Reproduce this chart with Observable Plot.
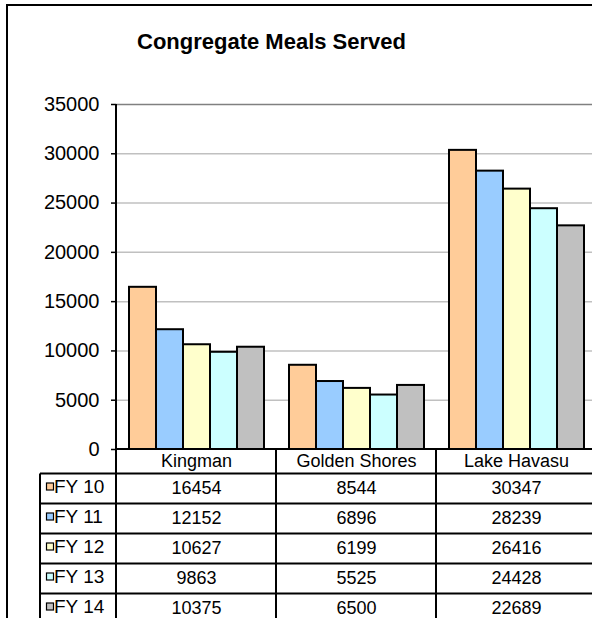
<!DOCTYPE html>
<html><head><meta charset="utf-8">
<script src="https://cdn.jsdelivr.net/npm/d3@7"></script>
<script src="https://cdn.jsdelivr.net/npm/@observablehq/plot@0.6"></script>
<style>
html,body{margin:0;padding:0;background:#fff;overflow:hidden;}
body{font-family:"Liberation Sans",Arial,sans-serif;}
#wrap{position:relative;width:592px;height:618px;overflow:hidden;}
#chart{position:absolute;left:0;top:0;width:600px;}
#chart svg{max-width:none !important;}
#title{position:absolute;left:137px;top:29px;font-weight:bold;font-size:22px;line-height:26px;white-space:nowrap;color:#000;}
#frame{position:absolute;left:6px;top:4px;width:800px;height:800px;border:2px solid #000;pointer-events:none;}
</style></head><body>
<div id="wrap"><div id="chart"></div><div id="title">Congregate Meals Served</div><div id="frame"></div></div>
<script>
const locations = ["Kingman", "Golden Shores", "Lake Havasu"];
const seriesNames = ["FY 10", "FY 11", "FY 12", "FY 13", "FY 14"];
const fy10 = [16454, 8544, 30347];
const fy11 = [12152, 6896, 28239];
const fy12 = [10627, 6199, 26416];
const fy13 = [9863, 5525, 24428];
const fy14 = [10375, 6500, 22689];
const yTicks = [0, 5000, 10000, 15000, 20000, 25000, 30000, 35000];
const colors = ["#FFCC99", "#99CCFF", "#FFFFCC", "#CCFFFF", "#C0C0C0"];

const seriesValues = [fy10, fy11, fy12, fy13, fy14];
const data = [];
seriesNames.forEach((s, i) => locations.forEach((loc, j) => data.push({series: s, loc, value: seriesValues[i][j]})));

const FONT = "Liberation Sans, Arial, sans-serif";
const headerH = 24.5, rowH = 30;

const rowTextMarks = seriesNames.map((s, i) =>
  Plot.text(data.filter(d => d.series === s), {
    fx: "loc", frameAnchor: "bottom", lineAnchor: "middle", text: d => String(d.value),
    dy: headerH + rowH * i + 14, fontSize: 18, fill: "#000"
  })
);

const plot = Plot.plot({
  width: 600, height: 618,
  marginTop: 104, marginBottom: 169, marginLeft: 115, marginRight: 4,
  style: {background: "transparent", fontFamily: FONT, overflow: "visible", color: "#000", maxWidth: "none"},
  fx: {domain: locations, padding: 0, label: null},
  x: {domain: seriesNames, padding: 0, insetLeft: 12, insetRight: 12, axis: null},
  y: {domain: [0, 35000], label: null},
  color: {domain: seriesNames, range: colors},
  marks: [
    Plot.ruleY(yTicks.filter(t => t > 0 && t < 35000), {stroke: "#c0c0c0", strokeWidth: 1.5}),
    Plot.ruleY([35000], {stroke: "#808080", strokeWidth: 1.5}),
    Plot.barY(data, {fx: "loc", x: "series", y: "value", fill: "series", stroke: "#000", strokeWidth: 2}),
    Plot.axisY({ticks: yTicks, tickSize: 5, tickPadding: 12, fontSize: 20, tickFormat: d => String(d), label: null, stroke: "#000", strokeWidth: 1.5}),
    Plot.axisFx({anchor: "bottom", tickSize: 0, tickPadding: 5, fontSize: 18, label: null}),
    ...rowTextMarks
  ]
});
document.getElementById("chart").appendChild(plot);

// table grid and legend column, positioned from Plot's own scales
const svg = d3.select(plot);
const fxS = plot.scale("fx"), yS = plot.scale("y");
const bw = fxS.bandwidth;
const left = fxS.apply(locations[0]);
const right = fxS.apply(locations[locations.length - 1]) + bw;
const y0 = yS.apply(0), yTop = yS.apply(35000);
const headerBottom = y0 + headerH;
const legendLeft = left - 76;
const bottom = 700;
const g = svg.append("g").attr("stroke", "#000").attr("stroke-width", 2);
g.append("line").attr("x1", left).attr("x2", left).attr("y1", yTop).attr("y2", bottom);
g.append("line").attr("x1", left).attr("x2", right).attr("y1", y0).attr("y2", y0);
locations.forEach(loc => {
  const xr = fxS.apply(loc) + bw;
  g.append("line").attr("x1", xr).attr("x2", xr).attr("y1", y0).attr("y2", bottom);
});
g.append("line").attr("x1", legendLeft).attr("x2", legendLeft).attr("y1", headerBottom).attr("y2", bottom);
for (let i = 0; i <= seriesNames.length; i++) {
  const yy = headerBottom + rowH * i;
  g.append("line").attr("x1", legendLeft).attr("x2", right).attr("y1", yy).attr("y2", yy);
}
const lg = svg.append("g").attr("font-family", FONT).attr("font-size", 19).attr("text-anchor", "start");
seriesNames.forEach((s, i) => {
  const top = headerBottom + rowH * i;
  lg.append("rect").attr("x", legendLeft + 6.5).attr("y", top + 9.5).attr("width", 7).attr("height", 7)
    .attr("fill", colors[i]).attr("stroke", "#000").attr("stroke-width", 1.2);
  lg.append("text").attr("x", legendLeft + 14).attr("y", top + 19.5).attr("fill", "#000").attr("text-anchor", "start").text(s);
});
</script>
</body></html>
